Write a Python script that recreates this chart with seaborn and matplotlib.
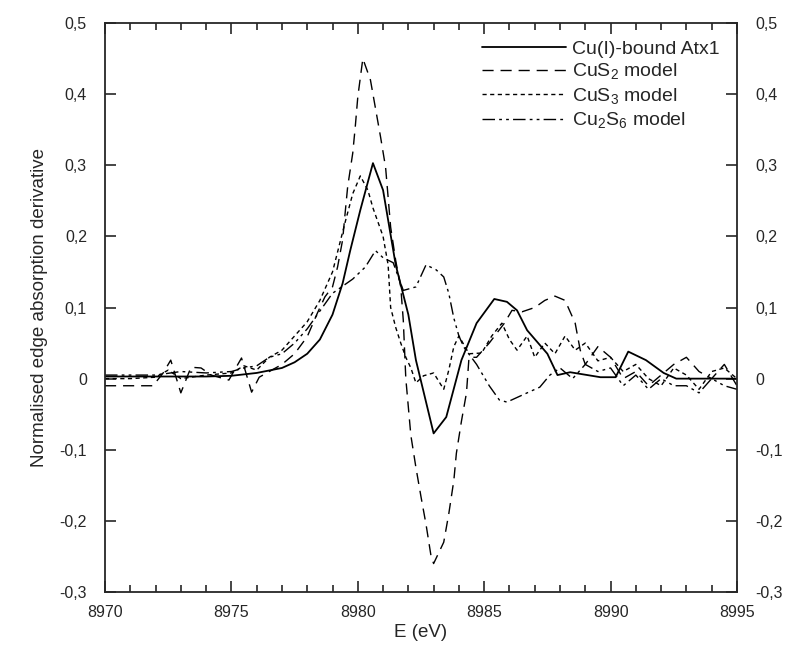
import numpy as np
import pandas as pd
import matplotlib
matplotlib.use("Agg")
import matplotlib.pyplot as plt
from matplotlib.ticker import FuncFormatter, MultipleLocator
import seaborn as sns

# Cu(I)-bound Atx1 (solid)
atx1_e = [8970, 8972, 8974, 8975, 8976, 8977, 8977.5, 8978, 8978.5, 8979, 8979.4,
          8979.7, 8980.1, 8980.6, 8981.0, 8981.5, 8982.0, 8982.3, 8983.0, 8983.5,
          8984.1, 8984.7, 8985.4, 8985.9, 8986.3, 8986.7, 8987.5, 8987.9, 8988.4,
          8989.6, 8990.2, 8990.7, 8991.4, 8992.1, 8992.6, 8993.5, 8994.3, 8995]
atx1_y = [0.003, 0.003, 0.003, 0.004, 0.008, 0.015, 0.023, 0.035, 0.055, 0.09, 0.134,
          0.18, 0.237, 0.303, 0.265, 0.16, 0.09, 0.026, -0.077, -0.054,
          0.026, 0.078, 0.112, 0.108, 0.096, 0.068, 0.035, 0.005, 0.009,
          0.002, 0.002, 0.038, 0.026, 0.008, 0.0, 0.0, 0.0, 0.0]

# CuS2 model (long dash)
cus2_e = [8970, 8971, 8971.9, 8972.3, 8972.6, 8973.0, 8973.4, 8973.8, 8974.2, 8974.9,
          8975.4, 8975.8, 8976.1, 8976.5, 8977, 8977.5, 8978.0, 8978.4, 8978.7, 8979.0,
          8979.2, 8979.4, 8979.5, 8979.6, 8979.8, 8979.9, 8980.0, 8980.2, 8980.5, 8980.7,
          8980.9, 8981.1, 8981.2, 8981.3, 8981.5, 8981.7, 8981.8, 8981.9, 8982.1, 8982.3,
          8982.5, 8982.7, 8982.9, 8983.0, 8983.4, 8983.6, 8983.8, 8983.9, 8984.1, 8984.3,
          8984.4, 8984.7, 8985.2, 8985.8, 8986.1, 8986.5, 8987.0, 8987.4, 8987.8, 8988.2,
          8988.6, 8988.8, 8989.0, 8989.5, 8990.0, 8990.5, 8991.0, 8991.5, 8992.0, 8992.5,
          8993.0, 8993.5, 8994.0, 8994.5, 8995]
cus2_y = [-0.01, -0.01, -0.01, 0.008, 0.026, -0.02, 0.016, 0.015, 0.005, -0.002,
          0.029, -0.019, 0.002, 0.01, 0.02, 0.035, 0.059, 0.092, 0.115, 0.129,
          0.157, 0.195, 0.233, 0.27, 0.317, 0.354, 0.396, 0.45, 0.42, 0.38,
          0.34, 0.297, 0.255, 0.213, 0.166, 0.129, 0.082, 0.0, -0.08, -0.125,
          -0.166, -0.205, -0.25, -0.26, -0.23, -0.19, -0.143, -0.105, -0.06, -0.02,
          0.03, 0.03, 0.05, 0.078, 0.096, 0.094, 0.10, 0.11, 0.116, 0.11,
          0.078, 0.04, 0.02, 0.045, 0.03, 0.0, 0.01, -0.01, 0.005, 0.02,
          0.03, 0.01, 0.0, 0.02, -0.01]

# CuS3 model (short dash)
cus3_e = [8970, 8971, 8972, 8972.5, 8973, 8974, 8975, 8975.5, 8976, 8976.5, 8977,
          8977.5, 8978, 8978.5, 8979, 8979.5, 8979.8, 8980.1, 8980.4, 8980.6, 8980.8,
          8981.0, 8981.2, 8981.3, 8981.5, 8981.7, 8981.9, 8982.1, 8982.3, 8982.6, 8983.0,
          8983.4, 8983.6, 8983.8, 8984.0, 8984.4, 8984.9, 8985.3, 8985.7, 8986.0, 8986.3,
          8986.7, 8987.0, 8987.4, 8987.8, 8988.2, 8988.6, 8989.0, 8989.5, 8990.0, 8990.5,
          8991.0, 8991.5, 8992.0, 8992.5, 8993.0, 8993.5, 8994.0, 8994.5, 8995]
cus3_y = [0.0, 0.0, 0.002, 0.012, 0.0, 0.005, 0.008, 0.018, 0.012, 0.03, 0.04,
          0.06, 0.08, 0.11, 0.15, 0.22, 0.26, 0.285, 0.265, 0.24, 0.22,
          0.2, 0.16, 0.1, 0.072, 0.05, 0.03, 0.015, -0.006, 0.004, 0.008,
          -0.015, 0.012, 0.045, 0.06, 0.035, 0.036, 0.06, 0.078, 0.055, 0.04,
          0.06, 0.03, 0.05, 0.035, 0.06, 0.04, 0.05, 0.025, 0.03, 0.01,
          0.02, 0.0, -0.01, 0.015, 0.005, -0.015, 0.01, 0.015, 0.0]

# Cu2S6 model (dash-dot)
cu2s6_e = [8970, 8972, 8973, 8974, 8975, 8975.5, 8976, 8976.5, 8977, 8977.5, 8978,
           8978.5, 8979, 8979.4, 8979.8, 8980.3, 8980.7, 8981.0, 8981.4, 8981.8, 8982.3,
           8982.7, 8983.1, 8983.4, 8983.6, 8983.8, 8984.0, 8984.2, 8984.7, 8985.2, 8985.6,
           8985.9, 8986.7, 8987.2, 8987.6, 8988.0, 8988.5, 8989.0, 8989.5, 8990.0, 8990.5,
           8991.0, 8991.5, 8992.0, 8992.5, 8993.0, 8993.5, 8994.0, 8994.5, 8995]
cu2s6_y = [0.005, 0.005, 0.01, 0.008, 0.01, 0.015, 0.018, 0.03, 0.035, 0.05, 0.07,
           0.095, 0.12, 0.13, 0.14, 0.157, 0.18, 0.17, 0.163, 0.124, 0.129,
           0.16, 0.153, 0.143, 0.12, 0.085, 0.06, 0.044, 0.02, -0.01, -0.03,
           -0.033, -0.02, -0.012, 0.005, 0.015, 0.0, 0.02, 0.01, 0.015, -0.01,
           0.005, -0.015, 0.0, -0.01, -0.01, -0.02, 0.0, -0.01, -0.015]

series = [
    ("Cu(I)-bound Atx1", atx1_e, atx1_y, "-", 1.3),
    ("CuS$_2$ model", cus2_e, cus2_y, (0, (8, 5)), 1.0),
    ("CuS$_3$ model", cus3_e, cus3_y, (0, (3, 2.5)), 1.0),
    ("Cu$_2$S$_6$ model", cu2s6_e, cu2s6_y, (0, (9, 3, 2, 3, 2, 3)), 1.0),
]

sns.set_style("ticks")
plt.rcParams['font.family'] = ['Liberation Sans', 'DejaVu Sans']
plt.rcParams['mathtext.fontset'] = 'custom'
plt.rcParams['mathtext.rm'] = 'Liberation Sans'

fig = plt.figure(figsize=(7.86, 6.54), dpi=100)
ax = fig.add_axes([0.1336, 0.0948, 0.804, 0.87])

for label, e, y, ls, lw in series:
    df = pd.DataFrame({"E": e, "y": y})
    sns.lineplot(data=df, x="E", y="y", ax=ax, color="black", linestyle=ls,
                 linewidth=lw, label=label, estimator=None)

ax.set_xlim(8970, 8995)
ax.set_ylim(-0.3, 0.5)
ax.xaxis.set_major_locator(MultipleLocator(5))
ax.xaxis.set_minor_locator(MultipleLocator(1))
ax.yaxis.set_major_locator(MultipleLocator(0.1))
comma = FuncFormatter(lambda v, p: ("%g" % round(v, 2)).replace(".", ","))
ax.yaxis.set_major_formatter(comma)
ax.xaxis.set_major_formatter(FuncFormatter(lambda v, p: "%d" % v))
ax.tick_params(which="both", direction="in", top=True, right=True, labelright=True,
               labelsize=11.5, width=1.2)
ax.tick_params(which="major", length=8)
ax.tick_params(axis="x", which="major", pad=9)
ax.tick_params(axis="y", which="major", pad=13)
ax.tick_params(which="minor", length=5)
for s in ax.spines.values():
    s.set_linewidth(1.3)

ax.set_xlabel("E (eV)", fontsize=13.5, labelpad=3)
ax.set_ylabel("Normalised edge absorption derivative", fontsize=13.5, labelpad=8)
ax.legend(loc="upper right", frameon=False, fontsize=14, handlelength=4.3,
          handletextpad=0.3, labelspacing=0.2, borderaxespad=0.5)

fig.savefig("out.png", dpi=100)
